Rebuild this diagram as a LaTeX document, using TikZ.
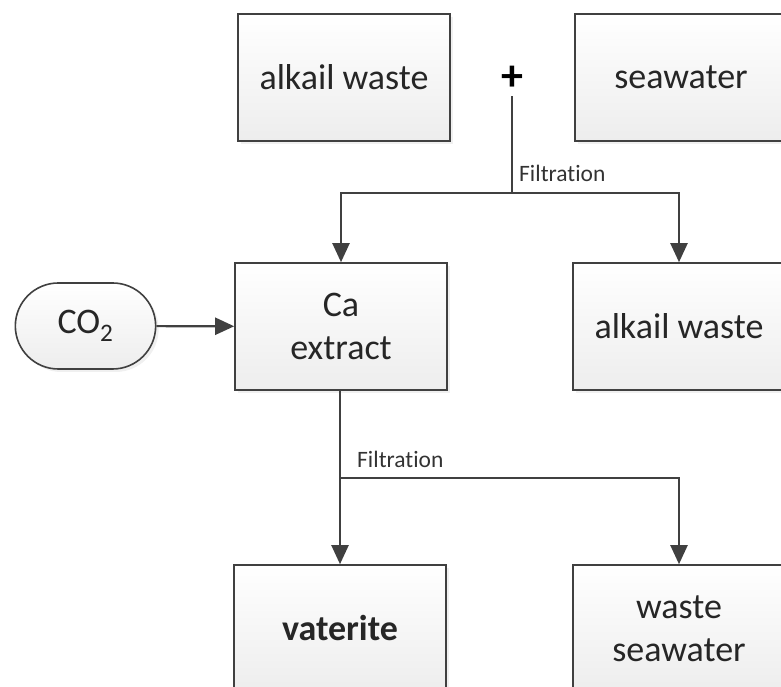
\documentclass[tikz,border=0pt]{standalone}
\usepackage{fontspec}
\setmainfont{Carlito}[Ligatures=NoCommon]
\usepackage{xcolor}
\usetikzlibrary{arrows.meta, shadows, shapes.misc}
\definecolor{linegray}{HTML}{404040}
\definecolor{boxgray}{HTML}{EDEDED}

\begin{document}
\begin{tikzpicture}[x=1pt, y=1pt,
    main/.style = {draw=linegray, line width=1.6pt, rectangle, minimum width=212pt,
        minimum height=127pt, top color=white, bottom color=boxgray, align=center,
        font=\fontsize{36}{43}\selectfont, text=black!85,
        drop shadow={opacity=0.12, shadow xshift=3pt, shadow yshift=-3pt}},
    pill/.style = {main, rounded rectangle, minimum width=147pt, minimum height=86pt},
    flow/.style = {draw=linegray, line width=2.2pt, -{Triangle[length=19pt, width=17pt]}},
    link/.style = {draw=linegray, line width=2.2pt},
    note/.style = {font=\fontsize{23.5}{26}\selectfont, text=black!80, anchor=west, inner sep=0pt}]
        \useasboundingbox (0,0) rectangle (781,687);
        \node[main] at (344, 609.5) (w1) {alkail waste};
        \node[main] at (681, 609.5) (sw) {seawater};
        \node[font=\fontsize{44}{44}\selectfont\bfseries, inner sep=0pt] at (512, 609) (plus) {+};
        \node[main] at (341, 360.5) (ca) {Ca\\extract};
        \node[main] at (679, 360.5) (w2) {alkail waste};
        \node[pill] at (85.5, 361) (co) {CO\textsubscript{2}};
        \node[main] at (340, 58.5) (vat) {\textbf{vaterite}};
        \node[main] at (679, 58.5) (wsw) {waste\\seawater};
        \coordinate (j1) at (512, 494);
        \coordinate (j2) at (340, 209);
        % mixing and first filtration
        \draw[link] ([yshift=-6pt]plus.south) -- (j1);
        \draw[flow] (j1) -| (ca.north);
        \draw[flow] (j1) -| (w2.north);
        \node[note] at (519, 514) (f1) {Filtration};
        % carbonation
        \draw[flow] (co) -- (ca);
        % second filtration
        \draw[link] (ca.south -| j2) -- (j2);
        \draw[flow] (j2) -- (vat.north -| j2);
        \draw[flow] (j2) -| (wsw.north);
        \node[note] at (357, 228) (f2) {Filtration};
\end{tikzpicture}
\end{document}
